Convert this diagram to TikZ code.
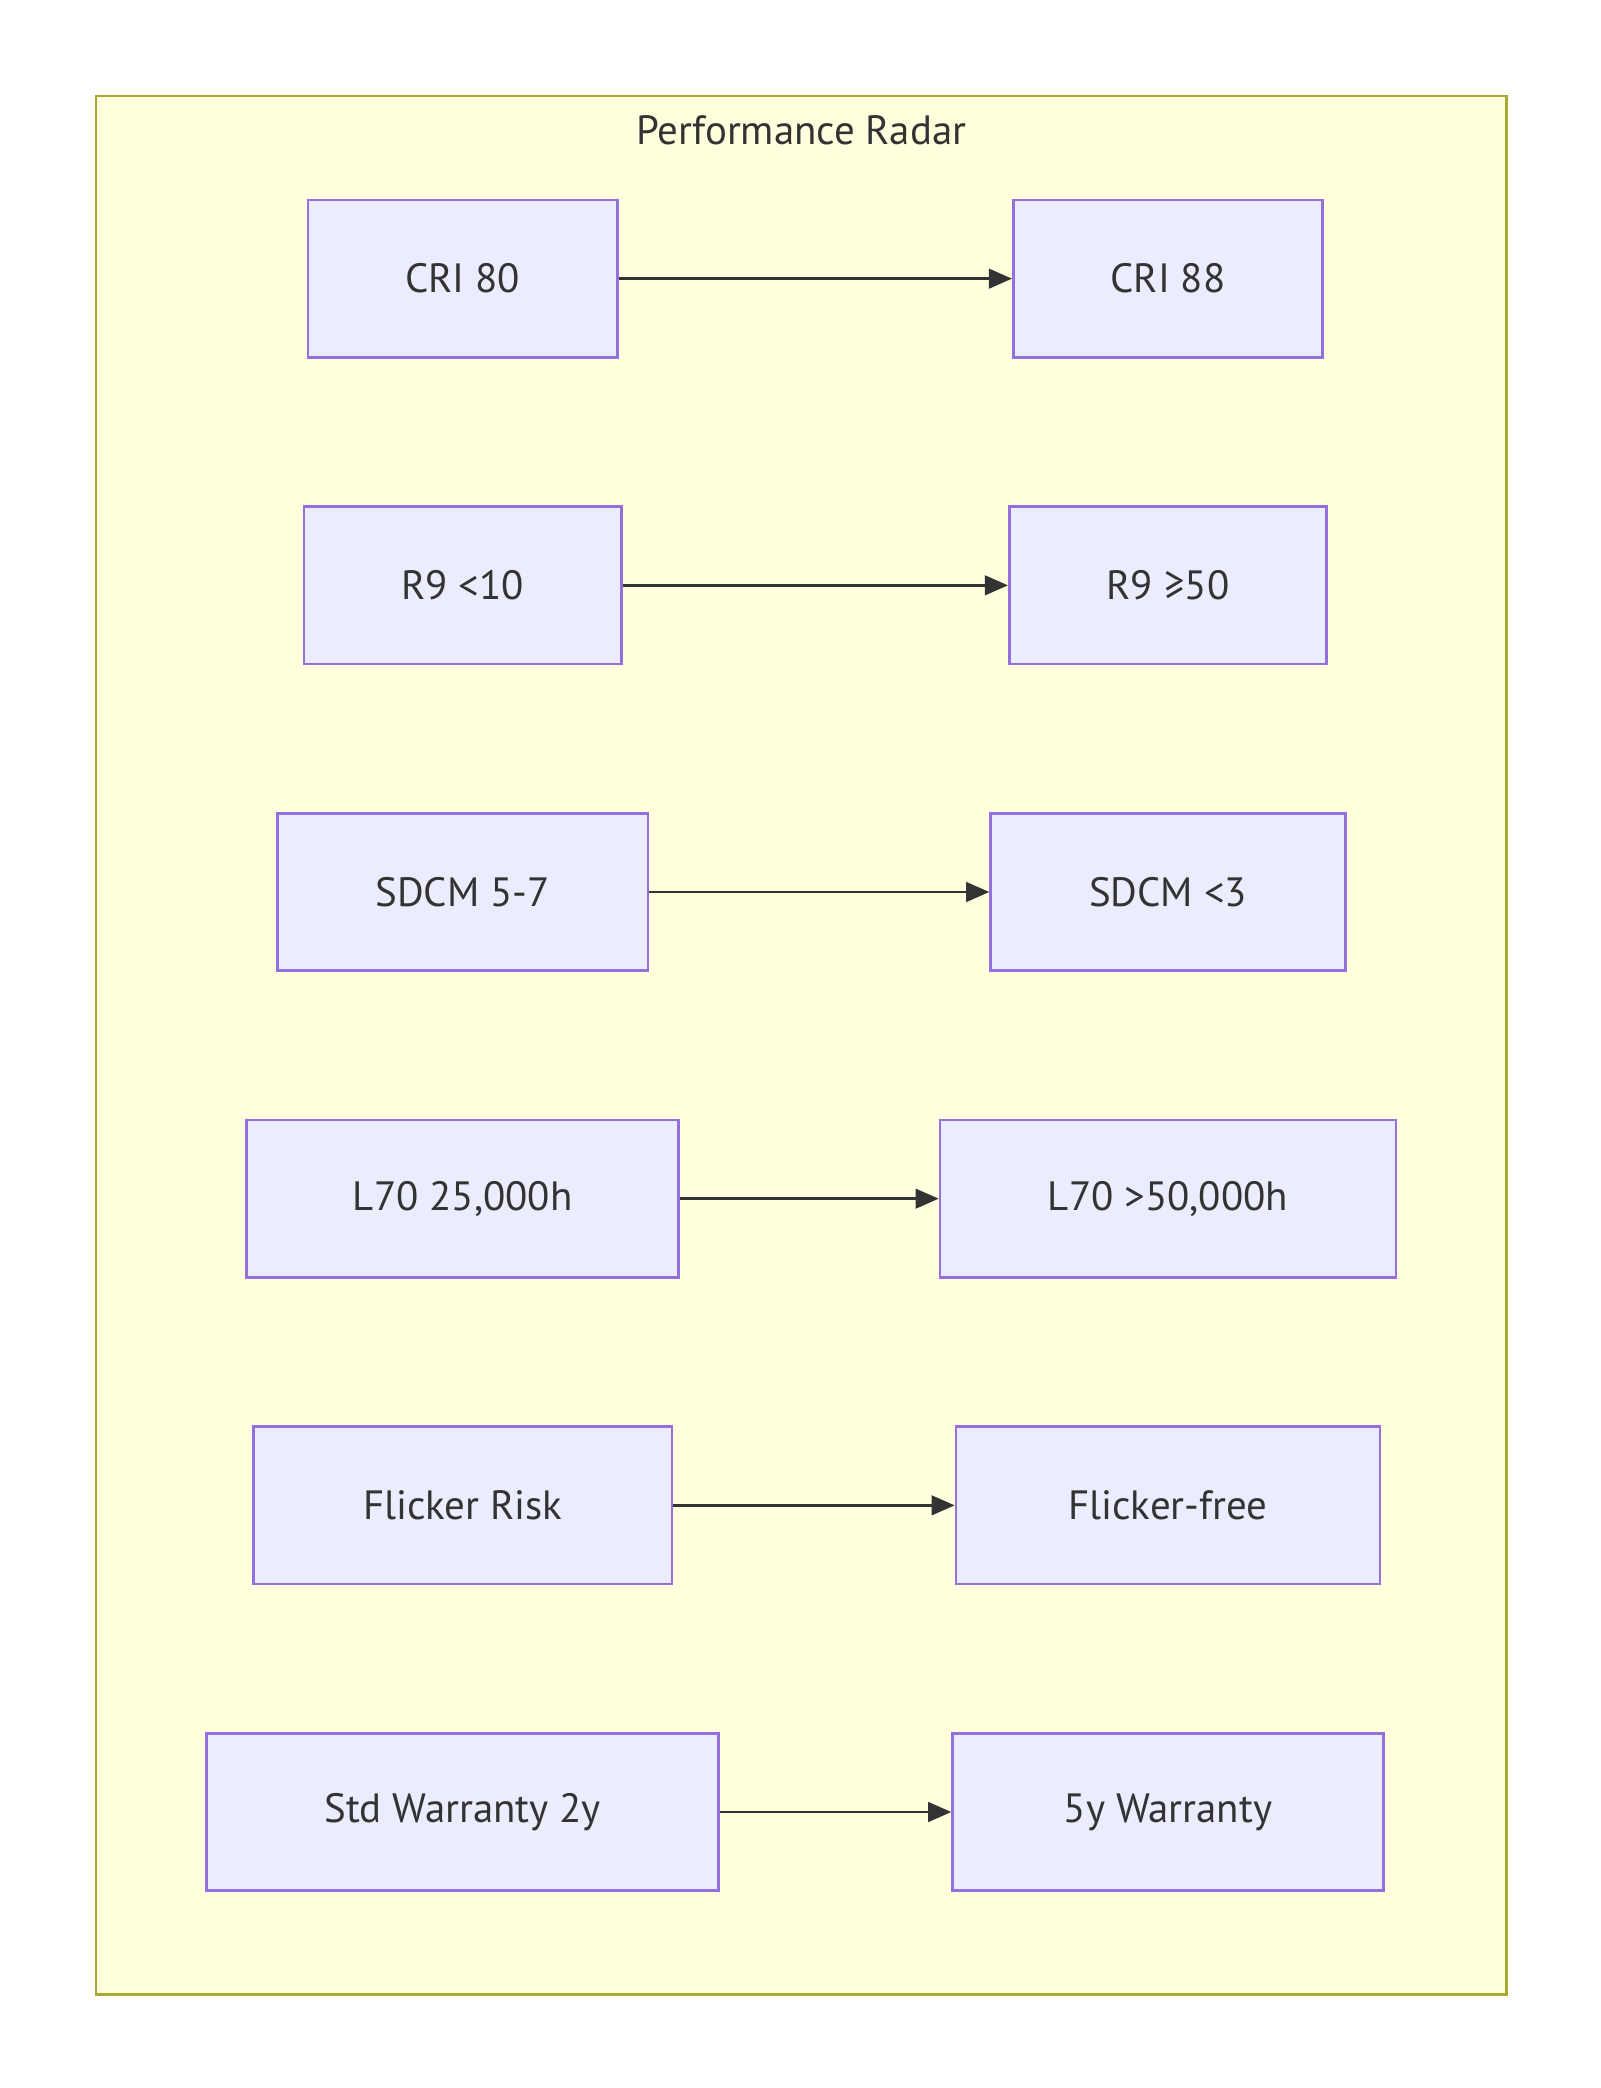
\documentclass[tikz,border=0pt]{standalone}
\usepackage{fontspec}
\setmainfont{PT Sans}
\usetikzlibrary{arrows.meta}
\definecolor{nfill}{HTML}{ECECFF}
\definecolor{nstroke}{HTML}{9370DB}
\definecolor{cfill}{HTML}{FFFFDE}
\definecolor{cstroke}{HTML}{AAAA33}
\definecolor{ink}{HTML}{333333}
\begin{document}
\begin{tikzpicture}[x=0.75pt,y=-0.75pt,
 box/.style={draw=nstroke,fill=nfill,line width=1.5pt,minimum height=88.5pt,inner sep=0pt,text=ink,font=\fontsize{23}{27}\selectfont},
 arr/.style={draw=ink,line width=1.5pt,-{Triangle[length=13pt,width=11pt]}}]
\useasboundingbox (0,0) rectangle (1200,1566);
\node[draw=cstroke,fill=cfill,line width=1.5pt,minimum width=793.5pt,minimum height=1068pt,inner sep=0pt] (cl) at (601,784) {};
\node[text=ink,font=\fontsize{23}{27}\selectfont] (t) at (601,98) {Performance Radar};
\newcommand\pair[8]{%
 \node[box,minimum width=#2*0.75pt] (#5) at (#1,#4) {#6};
 \node[box,minimum width=#7*0.75pt] (#5r) at (#3,#4) {#8};
 \draw[arr] (#5) -- (#5r);}
\pair{347}{232}{876}{209}{a}{CRI 80}{232}{CRI 88}
\pair{347}{238}{876}{439}{b}{R9 <10}{238}{R9 ≥50}
\pair{347}{278}{876}{669}{c}{SDCM 5-7}{266}{SDCM <3}
\pair{347}{324}{876}{899}{d}{L70 25,000h}{342}{L70 >50,000h}
\pair{347}{314}{876}{1129}{e}{Flicker Risk}{318}{Flicker-free}
\pair{347}{384}{876}{1359}{f}{Std Warranty 2y}{323}{5y Warranty}
\end{tikzpicture}
\end{document}
